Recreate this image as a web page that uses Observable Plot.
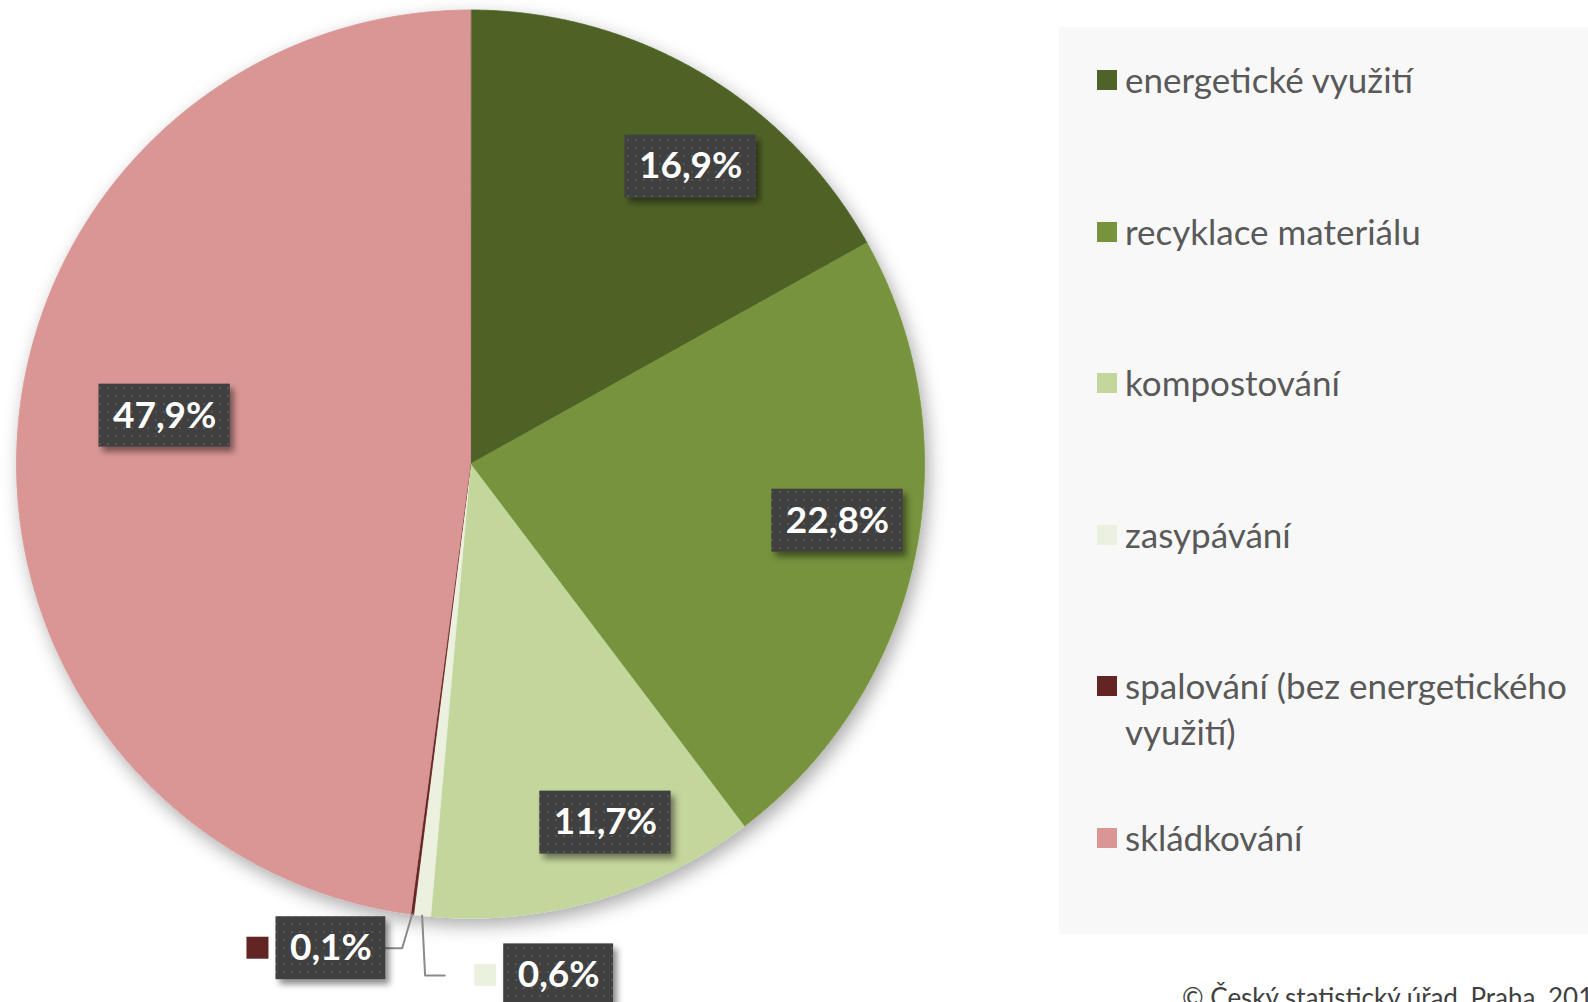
<!DOCTYPE html>
<html><head><meta charset="utf-8">
<script src="https://cdn.jsdelivr.net/npm/d3@7"></script>
<script src="https://cdn.jsdelivr.net/npm/@observablehq/plot@0.6"></script>
<style>
html,body{margin:0;padding:0;background:#fff;}
#wrap{position:relative;width:1588px;height:1002px;overflow:hidden;font-family:Lato,"Open Sans",sans-serif;}
#chart{position:absolute;left:0;top:0;}
#legend{position:absolute;left:1059px;top:27px;width:529px;height:907px;background:#f8f8f8;}
.item{position:absolute;left:38px;width:490px;}
.key{position:absolute;left:0;top:0;width:20px;height:20px;}
.lab{position:absolute;left:28px;top:-14px;width:462px;font-size:35px;line-height:46px;color:#595959;}
#caption{position:absolute;left:1182px;top:981px;font-size:26px;color:#404040;white-space:nowrap;}
</style></head>
<body>
<svg width="0" height="0" style="position:absolute">
  <defs>
    <pattern id="dots" width="8" height="8" patternUnits="userSpaceOnUse">
      <rect width="8" height="8" fill="#404040"/>
      <rect x="3" y="3" width="2" height="2" fill="#555555"/>
    </pattern>
    <filter id="pieShadow" x="-20%" y="-20%" width="140%" height="140%">
      <feDropShadow dx="4" dy="7" stdDeviation="9" flood-color="#000" flood-opacity="0.33"/>
    </filter>
    <filter id="boxShadow" x="-20%" y="-20%" width="140%" height="150%">
      <feDropShadow dx="4" dy="5" stdDeviation="3" flood-color="#000" flood-opacity="0.45"/>
    </filter>
  </defs>
</svg>
<div id="wrap">
  <div id="chart"></div>
  <div id="legend"></div>
  <div id="caption"></div>
</div>
<script>
// ---- data ----
const categories = ["energetické využití", "recyklace materiálu", "kompostování", "zasypávání", "spalování (bez energetického využití)", "skládkování"];
const shares = [16.9, 22.8, 11.7, 0.6, 0.1, 47.9];
const colors = ["#4F6228", "#77933C", "#C3D69B", "#EBF1DE", "#632523", "#D99694"];
const captionText = "© Český statistický úřad, Praha, 2019";

// ---- layout ----
const W = 1059, H = 1002, cx = 470, cy = 463.5, R = 454;
const LFS = 37, padX = 14, boxH = 63, keyS = 22, keyGap = 7;
// label placement: angular nudge from slice mid-angle (deg) and radius fraction
const placement = [
  {da: 6.1, k: 0.815},
  {da: -3.1, k: 0.818},
  {da: -4.6, k: 0.844},
  {da: -15.9, k: 1.143, outside: true},
  {da: 8.7, k: 1.11, outside: true},
  {da: 5.2, k: 0.682}
];

const rows = categories.map((c, i) => ({cat: c, share: shares[i], color: colors[i], i}));
const arcs = d3.pie().sort(null).value(d => d.share)(rows);
const pt = (a, k) => ({x: cx + k * R * Math.sin(a), y: cy - k * R * Math.cos(a)});

const slicePts = arcs.flatMap(a => {
  const n = Math.max(2, Math.ceil((a.endAngle - a.startAngle) / 0.004));
  const out = [{cat: a.data.cat, ...pt(0, 0)}];
  for (let j = 0; j <= n; j++) {
    const ang = a.startAngle + (a.endAngle - a.startAngle) * j / n;
    out.push({cat: a.data.cat, ...pt(ang, 1)});
  }
  return out;
});

const ctx = document.createElement("canvas").getContext("2d");
ctx.font = `bold ${LFS}px Lato`;
const fmt = v => v.toFixed(1).replace(".", ",") + "%";

const labels = arcs.map((a, i) => {
  const p = placement[i];
  const mid = (a.startAngle + a.endAngle) / 2;
  const c = pt(mid + p.da * Math.PI / 180, p.k);
  const text = fmt(a.data.share);
  const bw = ctx.measureText(text).width + 2 * padX;
  return {cat: a.data.cat, color: a.data.color, text, x: c.x, y: c.y, bw, mid, outside: !!p.outside,
    x1: c.x - bw / 2, x2: c.x + bw / 2, y1: c.y - boxH / 2, y2: c.y + boxH / 2};
});

const outsideLabels = labels.filter(d => d.outside);
const keys = outsideLabels.map(d => ({cat: d.cat, color: d.color,
  x1: d.x1 - keyGap - keyS, x2: d.x1 - keyGap, y1: d.y - keyS / 2, y2: d.y + keyS / 2}));

const leaders = outsideLabels.flatMap(d => {
  const e = pt(d.mid, 1);
  if (d.x < e.x) {
    return [{cat: d.cat, x: e.x, y: e.y}, {cat: d.cat, x: e.x - 10, y: d.y}, {cat: d.cat, x: d.x2, y: d.y}];
  } else {
    const keyLeft = d.x1 - keyGap - keyS;
    return [{cat: d.cat, x: e.x, y: e.y}, {cat: d.cat, x: e.x + 3, y: d.y}, {cat: d.cat, x: keyLeft - 30, y: d.y}];
  }
});

const chart = Plot.plot({
  width: W, height: H, margin: 0,
  x: {type: "identity", axis: null},
  y: {type: "identity", axis: null},
  color: {domain: categories, range: colors},
  marks: [
    Plot.line(slicePts, {x: "x", y: "y", z: "cat", fill: "cat", stroke: "cat", strokeWidth: 0.8, curve: "linear-closed"}),
    Plot.line(leaders, {x: "x", y: "y", z: "cat", stroke: "#8a8a8a", strokeWidth: 2}),
    Plot.rect(labels, {x1: "x1", x2: "x2", y1: "y1", y2: "y2", fill: "url(#dots)"}),
    Plot.rect(keys, {x1: "x1", x2: "x2", y1: "y1", y2: "y2", fill: "cat"}),
    Plot.text(labels, {x: "x", y: "y", text: "text", fill: "white", fontSize: LFS, fontWeight: "bold", fontFamily: "Lato"})
  ]
});
document.getElementById("chart").appendChild(chart);
const svg = d3.select(chart);
svg.style("overflow", "visible");
const lineGroups = svg.selectAll('g[aria-label="line"]').nodes();
d3.select(lineGroups[0]).attr("filter", "url(#pieShadow)");
const rectGroups = svg.selectAll('g[aria-label="rect"]').nodes();
d3.select(rectGroups[0]).attr("filter", "url(#boxShadow)");

// legend
const legend = d3.select("#legend");
const step = 151.6, top0 = 43;
rows.forEach((r, i) => {
  const it = legend.append("div").attr("class", "item").style("top", (top0 + i * step) + "px");
  it.append("div").attr("class", "key").style("background", r.color);
  it.append("div").attr("class", "lab").text(r.cat);
});
d3.select("#caption").text(captionText);
</script>
</body></html>
